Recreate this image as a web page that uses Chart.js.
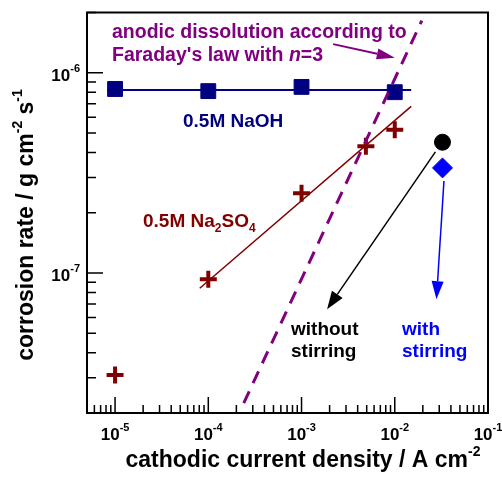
<!DOCTYPE html>
<html>
<head>
<meta charset="utf-8">
<script src="https://cdn.jsdelivr.net/npm/chart.js@4.4.1/dist/chart.umd.min.js"></script>
<style>
html, body { margin: 0; padding: 0; background: #fff; }
#wrap { width: 502px; height: 477px; position: relative; }
</style>
</head>
<body>
<div id="wrap"><canvas id="c"></canvas></div>
<script>
// axis decades (exponents shown as tick labels)
const xDecades = [-5, -4, -3, -2, -1];
const yDecades = [-7, -6];

// 0.5M NaOH
const naohX = [1e-5, 1e-4, 1e-3, 1e-2];
const naohY = [8.3e-7, 8.1e-7, 8.5e-7, 8.0e-7];
const naohFitX = [8.2e-6, 1.5e-2];
const naohFitY = [8.2e-7, 8.2e-7];

// 0.5M Na2SO4
const sulfX = [1e-5, 1e-4, 1e-3, 4.9e-3, 1e-2];
const sulfY = [3.1e-8, 9.3e-8, 2.5e-7, 4.3e-7, 5.2e-7];
const sulfFitX = [8.1e-5, 1.5e-2];
const sulfFitY = [8.4e-8, 6.8e-7];

// Faraday's law, n=3
const faradayX = [2.4e-4, 1.95e-2];
const faradayY = [2.24e-8, 1.82e-6];

// single points
const noStirX = [3.25e-2];
const noStirY = [4.5e-7];
const stirX = [3.25e-2];
const stirY = [3.35e-7];

// arrows [x0, y0, x1, y1] in data units
const arrowNoStir = [2.73e-2, 4.03e-7, 1.88e-3, 6.6e-8];
const arrowStir = [3.37e-2, 2.88e-7, 2.8e-2, 7.4e-8];
const arrowFaraday = [2.18e-3, 1.39e-6, 1.0e-2, 1.19e-6];

const FONT = "'Liberation Sans', Arial, sans-serif";
const NAVY = "#000080", DRED = "#800000", PURP = "#800080", BLUE = "#0000ff";

function pts(xs, ys) { return xs.map((x, i) => ({ x, y: ys[i] })); }

function drawRich(ctx, parts, x, y, align) {
  // parts: [text, size, dy, italic]
  let w = 0;
  parts.forEach((p) => {
    ctx.font = `${p[3] ? "italic " : ""}bold ${p[1]}px ${FONT}`;
    w += ctx.measureText(p[0]).width;
  });
  let cx = align === "center" ? x - w / 2 : align === "right" ? x - w : x;
  ctx.textAlign = "left";
  ctx.textBaseline = "alphabetic";
  parts.forEach((p) => {
    ctx.font = `${p[3] ? "italic " : ""}bold ${p[1]}px ${FONT}`;
    ctx.fillText(p[0], cx, y + p[2]);
    cx += ctx.measureText(p[0]).width;
  });
}

function arrow(ctx, chart, a, color, width, headLen, headW) {
  const xs = chart.scales.x, ys = chart.scales.y;
  const x0 = xs.getPixelForValue(a[0]), y0 = ys.getPixelForValue(a[1]);
  const x1 = xs.getPixelForValue(a[2]), y1 = ys.getPixelForValue(a[3]);
  const ang = Math.atan2(y1 - y0, x1 - x0);
  const bx = x1 - headLen * Math.cos(ang), by = y1 - headLen * Math.sin(ang);
  ctx.save();
  ctx.strokeStyle = color;
  ctx.fillStyle = color;
  ctx.lineWidth = width;
  ctx.beginPath();
  ctx.moveTo(x0, y0);
  ctx.lineTo(bx, by);
  ctx.stroke();
  ctx.beginPath();
  ctx.moveTo(x1, y1);
  ctx.lineTo(bx + headW / 2 * Math.sin(ang), by - headW / 2 * Math.cos(ang));
  ctx.lineTo(bx - headW / 2 * Math.sin(ang), by + headW / 2 * Math.cos(ang));
  ctx.closePath();
  ctx.fill();
  ctx.restore();
}

const decor = {
  id: "decor",
  afterDatasetsDraw(chart) {
    const ctx = chart.ctx;
    arrow(ctx, chart, arrowNoStir, "#000", 1.5, 18, 13);
    arrow(ctx, chart, arrowStir, BLUE, 1.5, 18, 12);
    arrow(ctx, chart, arrowFaraday, PURP, 2, 18, 11);
  },
  afterDraw(chart) {
    const ctx = chart.ctx;
    const a = chart.chartArea;
    const xs = chart.scales.x, ys = chart.scales.y;
    ctx.save();
    ctx.strokeStyle = "#000";
    ctx.fillStyle = "#000";
    // frame
    ctx.lineWidth = 2;
    ctx.strokeRect(a.left, a.top, a.right - a.left, a.bottom - a.top);
    // ticks
    ctx.lineWidth = 1.5;
    ctx.beginPath();
    for (let d = -6; d <= -1; d++) {
      for (let m = 1; m <= 9; m++) {
        const v = m * Math.pow(10, d);
        if (v < xs.min * 0.999 || v > xs.max * 1.001) continue;
        const px = xs.getPixelForValue(v);
        const len = m === 1 ? 16 : 8;
        ctx.moveTo(px, a.bottom);
        ctx.lineTo(px, a.bottom - len);
      }
    }
    for (let d = -8; d <= -6; d++) {
      for (let m = 1; m <= 9; m++) {
        const v = m * Math.pow(10, d);
        if (v < ys.min * 0.999 || v > ys.max * 1.001) continue;
        const py = ys.getPixelForValue(v);
        const len = m === 1 ? 16 : 9;
        ctx.moveTo(a.left, py);
        ctx.lineTo(a.left + len, py);
      }
    }
    ctx.stroke();
    // tick labels
    xDecades.forEach((e) => {
      const px = xs.getPixelForValue(Math.pow(10, e));
      drawRich(ctx, [["10", 17, 0], [String(e), 11, -9]], px, 440, "center");
    });
    yDecades.forEach((e) => {
      const py = ys.getPixelForValue(Math.pow(10, e));
      drawRich(ctx, [["10", 17, 0], [String(e), 11, -9]], 80, py + 8, "right");
    });
    // axis titles
    drawRich(ctx, [["cathodic current density / A cm", 23, 0], ["-2", 14, -11]], 303, 467, "center");
    ctx.save();
    ctx.translate(33, 225);
    ctx.rotate(-Math.PI / 2);
    drawRich(ctx, [["corrosion rate / g cm", 23, 0], ["-2", 14, -11], [" s", 23, 0], ["-1", 14, -11]], 0, 0, "center");
    ctx.restore();
    // annotations
    ctx.fillStyle = PURP;
    drawRich(ctx, [["anodic dissolution according to", 19.5, 0]], 112, 37.5, "left");
    drawRich(ctx, [["Faraday's law with ", 19.5, 0], ["n", 19.5, 0, true], ["=3", 19.5, 0]], 112, 61, "left");
    ctx.fillStyle = NAVY;
    drawRich(ctx, [["0.5M NaOH", 19, 0]], 183, 127, "left");
    ctx.fillStyle = DRED;
    drawRich(ctx, [["0.5M Na", 19, 0], ["2", 12, 5], ["SO", 19, 0], ["4", 12, 5]], 143, 227, "left");
    ctx.fillStyle = "#000";
    drawRich(ctx, [["without", 19, 0]], 291, 335, "left");
    drawRich(ctx, [["stirring", 19, 0]], 291, 357, "left");
    ctx.fillStyle = BLUE;
    drawRich(ctx, [["with", 19, 0]], 402, 335, "left");
    drawRich(ctx, [["stirring", 19, 0]], 402, 357, "left");
    ctx.restore();
  },
};

new Chart(document.getElementById("c"), {
  type: "scatter",
  data: {
    datasets: [
      { data: pts(faradayX, faradayY), showLine: true, borderColor: PURP, borderWidth: 3, borderDash: [13, 9], pointRadius: 0 },
      { data: pts(naohFitX, naohFitY), showLine: true, borderColor: NAVY, borderWidth: 2, pointRadius: 0 },
      { data: pts(sulfFitX, sulfFitY), showLine: true, borderColor: DRED, borderWidth: 1.5, pointRadius: 0 },
      { data: pts(naohX, naohY), pointStyle: "rect", pointRadius: 10.5, backgroundColor: NAVY, borderColor: NAVY, borderWidth: 1 },
      { data: pts(sulfX, sulfY), pointStyle: "cross", pointRadius: 8.5, borderColor: DRED, borderWidth: 4 },
      { data: pts(noStirX, noStirY), pointStyle: "circle", pointRadius: 8, backgroundColor: "#000", borderColor: "#000", borderWidth: 1 },
      { data: pts(stirX, stirY), pointStyle: "rectRot", pointRadius: 10, backgroundColor: BLUE, borderColor: BLUE, borderWidth: 1 },
    ],
  },
  options: {
    responsive: true,
    maintainAspectRatio: false,
    animation: false,
    layout: { padding: { left: 87, right: 14, top: 12, bottom: 64 } },
    plugins: { legend: { display: false }, tooltip: { enabled: false } },
    scales: {
      x: { type: "logarithmic", min: 5e-6, max: 1e-1, display: false },
      y: { type: "logarithmic", min: 2e-8, max: 2e-6, display: false },
    },
  },
  plugins: [decor],
});
</script>
</body>
</html>
